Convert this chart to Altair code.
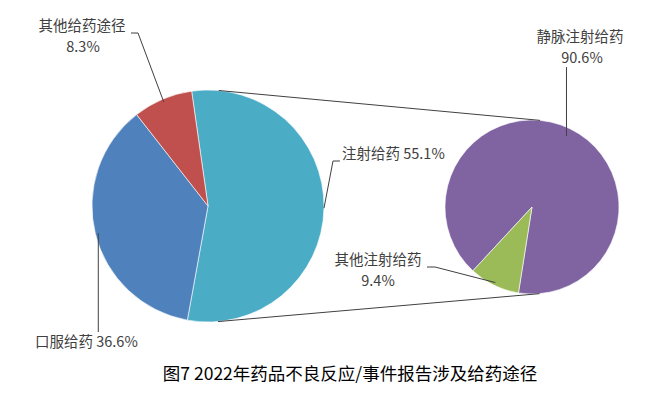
import math
import pandas as pd
import altair as alt

# ---------------- data ----------------
left_names = ["注射给药", "口服给药", "其他给药途径"]
left_values = [55.1, 36.6, 8.3]
left_colors = ["#4BACC6", "#4F81BD", "#C0504D"]

right_names = ["静脉注射给药", "其他注射给药"]
right_values = [90.6, 9.4]
right_colors = ["#8064A2", "#9BBB59"]

title_text = "图7 2022年药品不良反应/事件报告涉及给药途径"

# ---------------- layout (chart pixel coords) ----------------
W, H = 645, 379
LC, LR, L_START = (200.0, 198.0), 116.0, -8.1      # left pie centre, radius, start angle (deg)
RC, RR, R_START = (524.0, 199.0), 87.0, 222.8      # right pie centre, radius, start angle (deg)
FONT = "Noto Sans CJK SC"
TXT = "#404040"


def pt(c, r, deg):
    a = math.radians(deg)
    return (c[0] + r * math.sin(a), c[1] - r * math.cos(a))


def mids(values, start):
    tot = sum(values)
    out, acc = [], start
    for v in values:
        span = v / tot * 360.0
        out.append(acc + span / 2)
        acc += span
    return out


lm = mids(left_values, L_START)
rm = mids(right_values, R_START)

# ---------------- pies ----------------
def pie(names, values, colors, centre, radius, start):
    df = pd.DataFrame({"name": names, "value": values, "order": list(range(len(names)))})
    s = math.radians(start)
    return alt.Chart(df).mark_arc(radius=radius, stroke="white", strokeWidth=0.6).encode(
        theta=alt.Theta("value:Q", stack=True, scale=alt.Scale(range=[s, s + 2 * math.pi])),
        order=alt.Order("order:Q"),
        color=alt.Color("name:N", scale=alt.Scale(domain=names, range=colors), legend=None),
        x=alt.value(centre[0]),
        y=alt.value(centre[1]),
    )

left_pie = pie(left_names, left_values, left_colors, LC, LR, L_START)
right_pie = pie(right_names, right_values, right_colors, RC, RR, R_START)
pies = alt.layer(left_pie, right_pie).resolve_scale(theta="independent", color="independent")

# ---------------- connecting tangent lines ----------------
dx, dy = RC[0] - LC[0], RC[1] - LC[1]
d = math.hypot(dx, dy)
ux, uy = dx / d, dy / d
a = (RR - LR) / d
b = math.sqrt(1 - a * a)
rows = []
for gi, (px, py) in enumerate([(-uy, ux), (uy, -ux)]):
    nx, ny = a * ux + b * px, a * uy + b * py
    p1 = (LC[0] - LR * nx, LC[1] - LR * ny)
    p2 = (RC[0] - RR * nx, RC[1] - RR * ny)
    rows.append({"g": f"c{gi}", "o": 0, "x": p1[0], "y": p1[1]})
    rows.append({"g": f"c{gi}", "o": 1, "x": p2[0], "y": p2[1]})

# ---------------- leader lines ----------------
leaders = [
    # (anchor, elbow, end)
    (pt(LC, LR - 3, lm[2]), (130, 25), (123, 25)),          # 其他给药途径
    (pt(LC, LR, lm[0]), (325, 153), (332, 153)),            # 注射给药
    (pt(LC, LR - 3, lm[1]), None, (None, 324)),             # 口服给药
    (pt(RC, RR - 8, rm[0]), None, (None, 59)),              # 静脉注射给药
    (pt(RC, RR - 3, rm[1]), (427, 259), (419, 259)),        # 其他注射给药
]
for i, (anc, elb, end) in enumerate(leaders):
    pts = [anc]
    if elb is not None:
        pts.append(elb)
    pts.append((end[0] if end[0] is not None else anc[0], end[1]))
    for j, (x, y) in enumerate(pts):
        rows.append({"g": f"l{i}", "o": j, "x": x, "y": y})

lines_df = pd.DataFrame(rows)
lines = alt.Chart(lines_df).mark_line(color="#404040", strokeWidth=1).encode(
    x=alt.X("x:Q", scale=None),
    y=alt.Y("y:Q", scale=None),
    detail="g:N",
    order="o:Q",
)

# ---------------- labels ----------------
def pct(v):
    return f"{v:.1f}%"

labels = pd.DataFrame([
    {"t": left_names[2], "x": 74, "y": 19, "al": "center"},
    {"t": pct(left_values[2]), "x": 75, "y": 40, "al": "center"},
    {"t": f"{left_names[0]} {pct(left_values[0])}", "x": 334, "y": 147, "al": "left"},
    {"t": f"{left_names[1]} {pct(left_values[1])}", "x": 27, "y": 335, "al": "left"},
    {"t": right_names[0], "x": 572, "y": 30, "al": "center"},
    {"t": pct(right_values[0]), "x": 574, "y": 51, "al": "center"},
    {"t": right_names[1], "x": 370, "y": 253, "al": "center"},
    {"t": pct(right_values[1]), "x": 370, "y": 274, "al": "center"},
])

def text_layer(df, align):
    return alt.Chart(df[df["al"] == align]).mark_text(
        font=FONT, fontSize=14.5, color=TXT, align=align, baseline="middle"
    ).encode(x=alt.X("x:Q", scale=None), y=alt.Y("y:Q", scale=None), text="t:N")

title = alt.Chart(pd.DataFrame({"t": [title_text]})).mark_text(
    font=FONT, fontSize=17.5, color="#000000", align="center", baseline="middle"
).encode(x=alt.value(342), y=alt.value(367), text="t:N")

chart = alt.layer(
    pies, lines, text_layer(labels, "center"), text_layer(labels, "left"), title
).properties(
    width=W, height=H, autosize=alt.AutoSizeParams(type="none"), padding=0
).configure_view(stroke=None)

chart.save("out.html", embed_options={"renderer": "svg", "actions": False})
